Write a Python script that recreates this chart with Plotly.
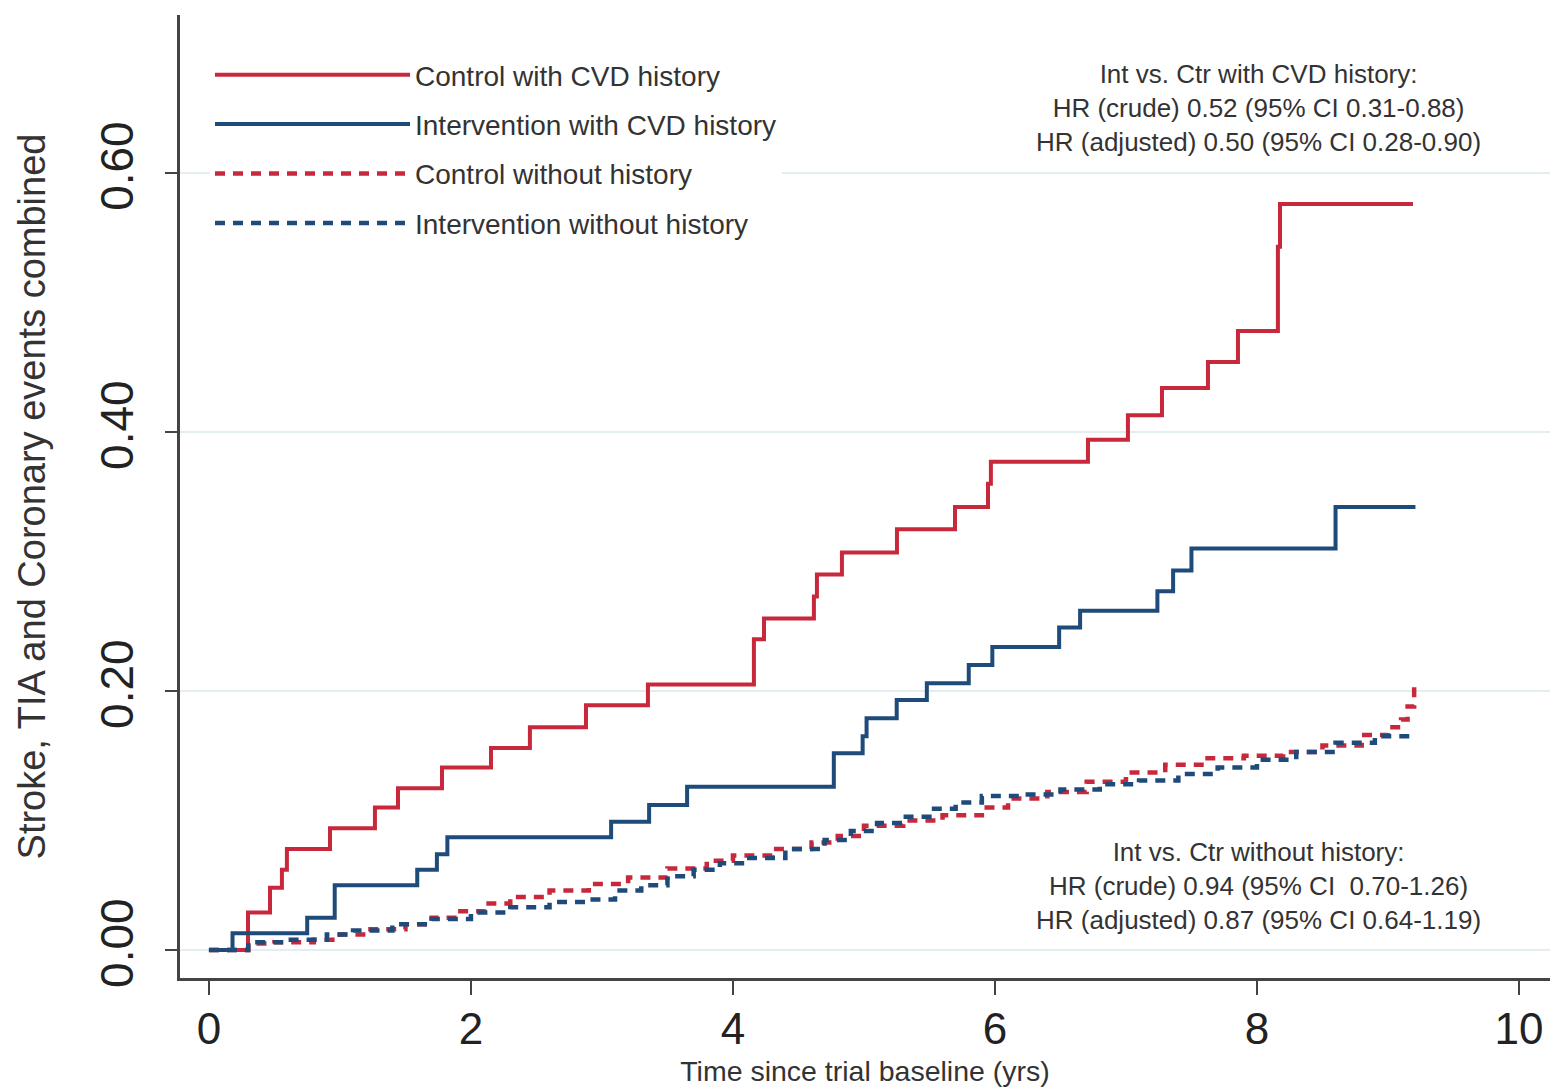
import plotly.graph_objects as go

# ---------------- data ----------------
ctrl_cvd_t = [0, 0.298, 0.466, 0.557, 0.595, 0.924, 1.267, 1.443, 1.779, 2.153, 2.450,
              2.878, 3.351, 4.160, 4.237, 4.618, 4.641, 4.832, 5.252, 5.695, 5.947,
              5.969, 6.710, 7.015, 7.275, 7.626, 7.855, 8.160, 8.176, 9.191]
ctrl_cvd_v = [0, 0.029, 0.048, 0.062, 0.078, 0.094, 0.110, 0.125, 0.141, 0.156, 0.172,
              0.189, 0.205, 0.240, 0.256, 0.273, 0.290, 0.307, 0.325, 0.342, 0.360,
              0.377, 0.394, 0.413, 0.434, 0.454, 0.478, 0.543, 0.576, 0.576]

int_cvd_t = [0, 0.18, 0.75, 0.96, 1.59, 1.74, 1.82, 3.07, 3.36, 3.65, 4.77, 4.99,
             5.02, 5.25, 5.48, 5.80, 5.98, 6.49, 6.65, 7.24, 7.36, 7.50, 8.60, 9.21]
int_cvd_v = [0, 0.013, 0.025, 0.050, 0.062, 0.074, 0.087, 0.099, 0.112, 0.126, 0.152, 0.165,
             0.179, 0.193, 0.206, 0.220, 0.234, 0.249, 0.262, 0.277, 0.293, 0.310, 0.342, 0.342]

ctrl_no_t = [0, 0.30, 0.50, 0.80, 1.00, 1.20, 1.50, 1.70, 1.90, 2.10, 2.30, 2.60, 2.90,
             3.20, 3.50, 3.80, 4.00, 4.30, 4.60, 4.80, 5.00, 5.30, 5.60, 5.90, 6.10,
             6.40, 6.70, 7.00, 7.30, 7.60, 7.90, 8.20, 8.50, 8.80, 9.00, 9.10, 9.15, 9.20]
ctrl_no_v = [0, 0.005, 0.006, 0.008, 0.012, 0.016, 0.020, 0.025, 0.030, 0.036, 0.041,
             0.046, 0.051, 0.056, 0.063, 0.069, 0.073, 0.078, 0.083, 0.088, 0.096,
             0.100, 0.104, 0.110, 0.117, 0.122, 0.130, 0.137, 0.143, 0.148, 0.150,
             0.153, 0.158, 0.166, 0.172, 0.178, 0.188, 0.203]

int_no_t = [0, 0.30, 0.60, 0.90, 1.10, 1.40, 1.70, 2.00, 2.30, 2.60, 2.90, 3.10, 3.30,
            3.50, 3.70, 3.90, 4.10, 4.40, 4.70, 4.90, 5.10, 5.30, 5.50, 5.70, 5.90,
            6.20, 6.50, 6.80, 7.10, 7.40, 7.70, 8.00, 8.30, 8.60, 8.90, 9.20]
int_no_v = [0, 0.006, 0.008, 0.012, 0.015, 0.020, 0.024, 0.029, 0.033, 0.037, 0.039,
            0.046, 0.050, 0.057, 0.062, 0.067, 0.071, 0.078, 0.085, 0.092, 0.098,
            0.103, 0.109, 0.114, 0.119, 0.120, 0.124, 0.128, 0.131, 0.136, 0.141,
            0.147, 0.153, 0.160, 0.165, 0.166]

series_names = ["Control with CVD history", "Intervention with CVD history",
                "Control without history", "Intervention without history"]

x_ticks = [0, 2, 4, 6, 8, 10]
y_ticks = [0, 0.2, 0.4, 0.6]
y_tick_text = ["0.00", "0.20", "0.40", "0.60"]

note_top = ["Int vs. Ctr with CVD history:",
            "HR (crude) 0.52 (95% CI 0.31-0.88)",
            "HR (adjusted) 0.50 (95% CI 0.28-0.90)"]
note_bottom = ["Int vs. Ctr without history:",
               "HR (crude) 0.94 (95% CI  0.70-1.26)",
               "HR (adjusted) 0.87 (95% CI 0.64-1.19)"]

# ---------------- styles ----------------
RED = "#C8283C"
BLUE = "#1F4B7A"
FONT = "Liberation Sans, Arial, sans-serif"
TXT = "#333333"
DASH = "10px,8px"

fig = go.Figure()
specs = [
    (ctrl_cvd_t, ctrl_cvd_v, RED, "solid", 4),
    (int_cvd_t, int_cvd_v, BLUE, "solid", 4),
    (ctrl_no_t, ctrl_no_v, RED, DASH, 4.5),
    (int_no_t, int_no_v, BLUE, DASH, 4.5),
]
for i, (t, v, c, d, w) in enumerate(specs):
    fig.add_trace(go.Scatter(
        x=t, y=v, mode="lines", name=series_names[i], legendgroup=f"g{i}",
        line=dict(shape="hv", color=c, width=w, dash=d),
    ))

W, H = 1550, 1088
ML, MR, MT, MB = 180, 0, 15, 110
pw, ph = W - ML - MR, H - MT - MB

fig.update_layout(
    width=W, height=H,
    margin=dict(l=ML, r=MR, t=MT, b=MB, pad=0),
    paper_bgcolor="white", plot_bgcolor="white",
    font=dict(family=FONT, color=TXT),
    showlegend=True,
    legend=dict(
        x=(210 - ML) / pw, y=1 - (50 - MT) / ph, xanchor="left", yanchor="top",
        bgcolor="white", font=dict(size=28, color=TXT), itemwidth=195,
        tracegroupgap=10, traceorder="grouped",
    ),
    xaxis=dict(
        range=[-0.221, 10.237], tickvals=x_ticks, showgrid=False, zeroline=False,
        automargin=False,
        showline=True, linecolor="#444", linewidth=2.5, ticks="outside", ticklen=14,
        tickwidth=2, tickcolor="#444", tickfont=dict(size=44, color="#222"),
        ticklabelstandoff=-4,
        title=dict(text="Time since trial baseline (yrs)", font=dict(size=28.5, color=TXT),
                   standoff=10),
    ),
    yaxis=dict(
        range=[-0.0216, 0.722], tickvals=y_ticks, ticktext=y_tick_text, tickangle=-90,
        automargin=False,
        showgrid=True, gridcolor="#E4EDF0", gridwidth=2, zeroline=False,
        showline=True, linecolor="#444", linewidth=2.5, ticks="outside", ticklen=12,
        tickwidth=2, tickcolor="#444", tickfont=dict(size=46, color="#222"),
        ticklabelstandoff=14,
        title=dict(text="Stroke, TIA and Coronary events combined",
                   font=dict(size=38, color=TXT), standoff=34),
    ),
)

CX = (1258 - ML) / pw
fig.add_annotation(xref="paper", yref="paper", x=CX, y=1 - (108 - MT) / ph,
                   text="<br>".join(note_top), showarrow=False, align="center",
                   xanchor="center", yanchor="middle", font=dict(size=26, color=TXT))
fig.add_annotation(xref="paper", yref="paper", x=CX, y=1 - (886 - MT) / ph,
                   text="<br>".join(note_bottom), showarrow=False, align="center",
                   xanchor="center", yanchor="middle", font=dict(size=26, color=TXT))

fig.write_html("out.html", config={"displayModeBar": False},
               post_script="document.body.style.margin='0';")
